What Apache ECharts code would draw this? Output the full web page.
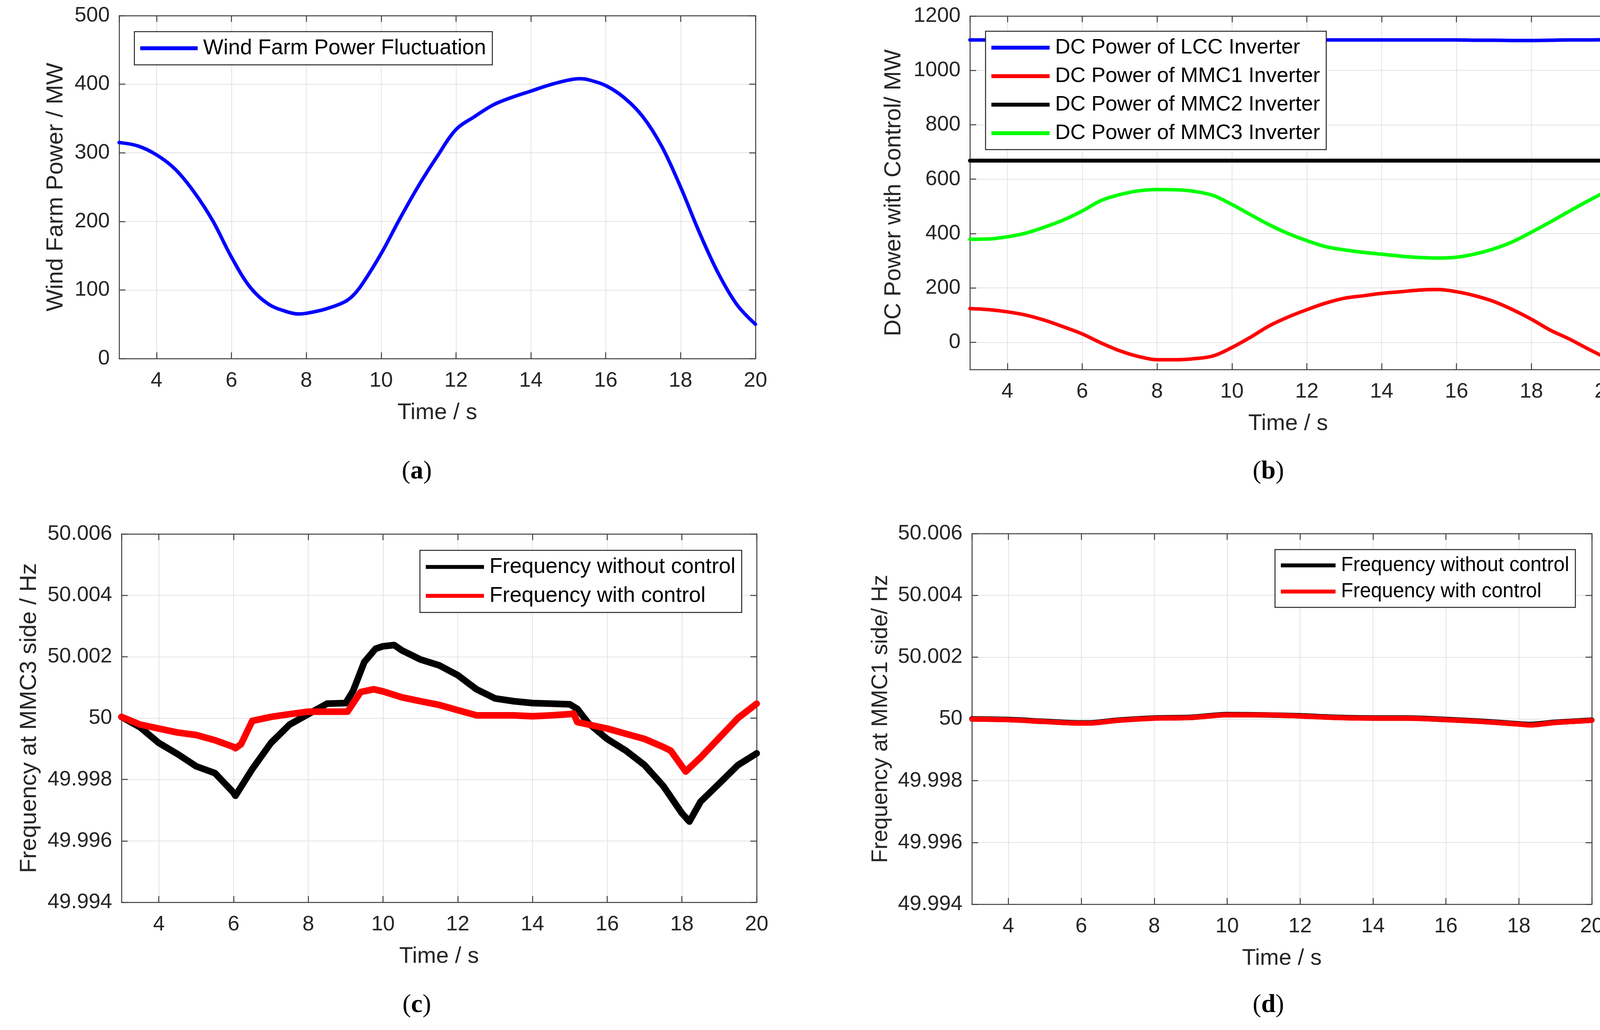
<!DOCTYPE html>
<html>
<head>
<meta charset="utf-8">
<title>Wind farm power, DC power and frequency</title>
<style>
  html, body { margin: 0; padding: 0; background: #fff; }
  #main { width: 4165px; height: 2637px; }
</style>
</head>
<body>
<div id="main"></div>
<script src="https://cdn.jsdelivr.net/npm/echarts@6/dist/echarts.min.js"></script>
<script>
// (a) wind farm power, MW
var windT = [3, 3.5, 4, 4.5, 5, 5.5, 6, 6.5, 7, 7.5, 7.8, 8, 8.5, 9, 9.25, 9.5, 10, 10.5, 11, 11.5, 12, 12.5, 13, 13.5, 14, 14.5, 15, 15.3, 15.5, 16, 16.5, 17, 17.5, 18, 18.5, 19, 19.5, 20];
var windP = [315, 310, 297, 276, 243, 201, 148, 104, 79, 68, 65, 66, 72, 82, 92, 109, 153, 204, 252, 295, 334, 353, 370, 381, 390, 399, 406, 408, 407, 398, 380, 352, 309, 250, 184, 125, 79, 50];

// (b) DC power with control, MW
var dcT = [3, 3.5, 4, 4.5, 5, 5.5, 6, 6.5, 7, 7.5, 8, 8.5, 9, 9.5, 10, 10.5, 11, 11.5, 12, 12.5, 13, 13.5, 14, 14.5, 15, 15.5, 16, 16.5, 17, 17.5, 18, 18.5, 19, 19.5, 20];
var lccP = [1112, 1112, 1112, 1112, 1112, 1112, 1112, 1112, 1112, 1112, 1112, 1112, 1112, 1112, 1112, 1112, 1112, 1112, 1112, 1112, 1112, 1112, 1112, 1112, 1112, 1112, 1112, 1111, 1111, 1110, 1110, 1111, 1112, 1112, 1113];
var mmc1P = [124, 120, 112, 100, 81, 57, 31, -2, -31, -52, -64, -64, -60, -50, -19, 19, 61, 93, 120, 144, 162, 171, 180, 186, 192, 194, 186, 171, 150, 120, 85, 45, 13, -23, -58];
var mmc2P = [668, 668, 668, 668, 668, 668, 668, 668, 668, 668, 668, 668, 668, 668, 668, 668, 668, 668, 668, 668, 668, 668, 668, 668, 668, 668, 668, 668, 668, 668, 668, 668, 668, 668, 668];
var mmc3P = [379, 380, 388, 402, 424, 450, 483, 521, 543, 557, 562, 561, 555, 540, 507, 469, 432, 400, 374, 352, 340, 331, 324, 317, 312, 310, 313, 325, 344, 370, 405, 442, 481, 519, 555];

// (c) frequency at MMC3 side, Hz
var c3NoT = [3, 3.5, 4, 4.5, 5, 5.5, 6, 6.05, 6.5, 7, 7.5, 8, 8.5, 9, 9.2, 9.5, 9.8, 10, 10.3, 10.5, 11, 11.5, 12, 12.5, 13, 13.5, 14, 14.5, 15, 15.2, 15.5, 16, 16.5, 17, 17.5, 18, 18.2, 18.5, 19, 19.5, 20];
var c3NoF = [50.00004, 49.9997, 49.99919, 49.99883, 49.99843, 49.99821, 49.99757, 49.99747, 49.99834, 49.99919, 49.99979, 50.00013, 50.00047, 50.00049, 50.00089, 50.00183, 50.00226, 50.00234, 50.00238, 50.00221, 50.00191, 50.00172, 50.0014, 50.00094, 50.00064, 50.00055, 50.00049, 50.00047, 50.00045, 50.0003, 49.99983, 49.99932, 49.99894, 49.99847, 49.99779, 49.9969, 49.99663, 49.99728, 49.99787, 49.99847, 49.99885];
var c3CtT = [3, 3.5, 4, 4.5, 5, 5.5, 6, 6.05, 6.2, 6.5, 7, 7.5, 8, 8.5, 9.05, 9.4, 9.75, 10, 10.5, 11, 11.5, 12, 12.5, 13, 13.5, 14, 14.5, 15, 15.1, 15.2, 15.5, 16, 16.5, 17, 17.5, 17.7, 18, 18.1, 18.5, 19, 19.5, 20];
var c3CtF = [50.00004, 49.99979, 49.99966, 49.99953, 49.99945, 49.99928, 49.99906, 49.99902, 49.99915, 49.99991, 50.00004, 50.00013, 50.00021, 50.00021, 50.00021, 50.00085, 50.00094, 50.00087, 50.00068, 50.00055, 50.00043, 50.00026, 50.00009, 50.00009, 50.00009, 50.00006, 50.00009, 50.00013, 50.00015, 49.99987, 49.99979, 49.99966, 49.99949, 49.99932, 49.99906, 49.99894, 49.99843, 49.99826, 49.99872, 49.99936, 50.0, 50.00047];

// (d) frequency at MMC1 side, Hz
var d1T = [3, 4, 5, 6, 6.2, 7, 8, 9, 10, 11, 12, 13, 14, 15, 16, 17, 18, 18.3, 19, 20];
var d1NoF = [50.0, 49.99998, 49.99992, 49.99987, 49.99987, 49.99996, 50.00003, 50.00005, 50.00014, 50.00013, 50.0001, 50.00005, 50.00003, 50.00003, 49.99998, 49.99992, 49.99984, 49.99982, 49.99989, 49.99996];
var d1CtF = [49.99999, 49.99997, 49.99991, 49.99986, 49.99986, 49.99995, 50.00002, 50.00004, 50.00013, 50.00013, 50.00009, 50.00004, 50.00002, 50.00002, 49.99997, 49.99991, 49.99983, 49.9998, 49.99988, 49.99995];

var FONT = 'Liberation Sans, Arial, sans-serif';
var INK = '#262626';
var AXC = '#404040';
var GRIDC = '#e3e3e3';

function pairs(t, v) {
  return t.map(function (x, i) { return [x, v[i]]; });
}

var grids = [
  { left: 305, top: 40, width: 1629, height: 878 },
  { left: 2483, top: 41, width: 1629, height: 905 },
  { left: 311, top: 1367, width: 1626, height: 943 },
  { left: 2488, top: 1366, width: 1587, height: 949 }
];

function axisCommon(g) {
  return {
    type: 'value',
    gridIndex: g,
    axisLine: { show: true, onZero: false, lineStyle: { color: AXC, width: 2.5 } },
    axisTick: { show: true, inside: true, length: 16, lineStyle: { color: AXC, width: 2.5 } }
  };
}

function timeAxes(g) {
  var bottom = Object.assign(axisCommon(g), {
    position: 'bottom', min: 3, max: 20, minInterval: 2, maxInterval: 2,
    name: 'Time / s', nameLocation: 'middle', nameGap: 110,
    nameTextStyle: { fontFamily: FONT, fontSize: 58, color: INK },
    axisLabel: { showMinLabel: false, margin: 30, fontFamily: FONT, fontSize: 54, color: INK },
    splitLine: { show: true, lineStyle: { color: GRIDC, width: 2 } }
  });
  var top = Object.assign(axisCommon(g), {
    position: 'top', min: 3, max: 20, minInterval: 2, maxInterval: 2,
    axisLabel: { show: false }, splitLine: { show: false }
  });
  return [bottom, top];
}

function valueAxes(g, opt) {
  var left = Object.assign(axisCommon(g), {
    position: 'left', min: opt.min, max: opt.max,
    name: opt.name, nameLocation: 'middle', nameGap: opt.gap,
    nameTextStyle: { fontFamily: FONT, fontSize: opt.nameSize, color: INK },
    axisLabel: { showMinLabel: opt.showMin, margin: 24, fontFamily: FONT, fontSize: 54, color: INK, formatter: opt.fmt },
    splitLine: { show: true, lineStyle: { color: GRIDC, width: 2 } }
  });
  var right = Object.assign(axisCommon(g), {
    position: 'right', min: opt.min, max: opt.max,
    axisLabel: { show: false }, splitLine: { show: false }
  });
  if (opt.interval) { left.interval = right.interval = opt.interval; }
  if (opt.fixStep) {
    left.minInterval = left.maxInterval = opt.fixStep;
    right.minInterval = right.maxInterval = opt.fixStep;
  }
  return [left, right];
}

function plainFmt(v) { return String(v); }
function freqFmt(v) { return String(+v.toFixed(3)); }

var xAxes = [].concat(timeAxes(0), timeAxes(1), timeAxes(2), timeAxes(3));
var yAxes = [].concat(
  valueAxes(0, { min: 0, max: 500, interval: 100, name: 'Wind Farm Power / MW', gap: 132, nameSize: 60, showMin: true, fmt: plainFmt }),
  valueAxes(1, { min: -100, max: 1200, fixStep: 200, name: 'DC Power with Control/ MW', gap: 165, nameSize: 59, showMin: false, fmt: plainFmt }),
  valueAxes(2, { min: 49.994, max: 50.006, interval: 0.002, name: 'Frequency at MMC3 side / Hz', gap: 206, nameSize: 60, showMin: true, fmt: freqFmt }),
  valueAxes(3, { min: 49.994, max: 50.006, interval: 0.002, name: 'Frequency at MMC1 side/ Hz', gap: 204, nameSize: 57, showMin: true, fmt: freqFmt })
);

function line(name, g, data, color, width, smooth) {
  return {
    type: 'line', name: name, xAxisIndex: 2 * g, yAxisIndex: 2 * g,
    data: data, showSymbol: false, smooth: smooth || false,
    lineStyle: { color: color, width: width, join: 'round', cap: 'round' }, itemStyle: { color: color },
    animation: false
  };
}

var series = [
  line('Wind Farm Power Fluctuation', 0, pairs(windT, windP), '#0000ff', 9, 0.35),
  line('DC Power of LCC Inverter', 1, pairs(dcT, lccP), '#0000ff', 9, 0.3),
  line('DC Power of MMC1 Inverter', 1, pairs(dcT, mmc1P), '#ff0000', 9, 0.35),
  line('DC Power of MMC2 Inverter', 1, pairs(dcT, mmc2P), '#000000', 10, 0.3),
  line('DC Power of MMC3 Inverter', 1, pairs(dcT, mmc3P), '#00ff00', 9, 0.35),
  line('Frequency without control', 2, pairs(c3NoT, c3NoF), '#000000', 17),
  line('Frequency with control', 2, pairs(c3CtT, c3CtF), '#ff0000', 17),
  line('Frequency without control', 3, pairs(d1T, d1NoF), '#000000', 14, 0.3),
  line('Frequency with control', 3, pairs(d1T, d1CtF), '#ff0000', 13, 0.3)
];

function legendBox(names, left, top, lineLen, fontSize, gap) {
  return {
    orient: 'vertical', left: left, top: top,
    data: names, icon: 'rect', itemWidth: lineLen, itemHeight: 10, itemGap: gap,
    padding: [15, 16, 15, 15],
    backgroundColor: '#fff', borderColor: INK, borderWidth: 2.5, borderRadius: 0,
    selectedMode: false,
    textStyle: { fontFamily: FONT, fontSize: fontSize, lineHeight: fontSize, color: '#000', padding: [0, 0, 0, 9] }
  };
}

var legends = [
  legendBox(['Wind Farm Power Fluctuation'], 344, 81, 147, 55, 19),
  legendBox(['DC Power of LCC Inverter', 'DC Power of MMC1 Inverter', 'DC Power of MMC2 Inverter', 'DC Power of MMC3 Inverter'], 2523, 80, 149, 54, 19),
  legendBox(['Frequency without control', 'Frequency with control'], 1075, 1409, 149, 55, 19),
  legendBox(['Frequency without control', 'Frequency with control'], 3264, 1407, 140, 51, 16)
];

function caption(letter, x, y) {
  return {
    type: 'text', x: x, y: y, z: 10,
    style: {
      text: '({b|' + letter + '})',
      font: '66px "Liberation Serif", "Times New Roman", serif',
      fill: '#000', align: 'center', verticalAlign: 'middle',
      rich: { b: { fontWeight: 'bold', fontSize: 66, fontFamily: 'Liberation Serif', fill: '#000' } }
    }
  };
}

var chart = echarts.init(document.getElementById('main'), null, { renderer: 'canvas' });
chart.setOption({
  backgroundColor: '#ffffff',
  animation: false,
  grid: grids,
  xAxis: xAxes,
  yAxis: yAxes,
  legend: legends,
  series: series,
  graphic: [
    caption('a', 1067, 1208),
    caption('b', 3247, 1208),
    caption('c', 1067, 2574),
    caption('d', 3247, 2574)
  ]
});
</script>
</body>
</html>
